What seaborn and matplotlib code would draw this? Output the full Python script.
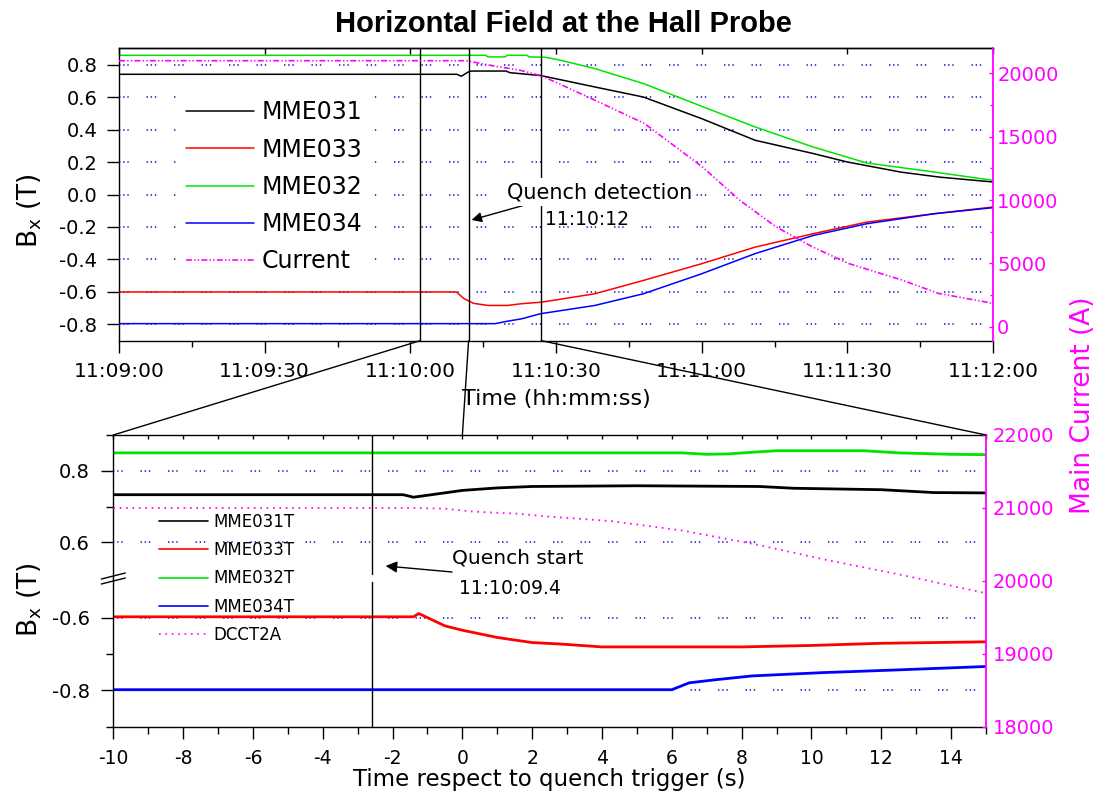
import matplotlib
matplotlib.use("Agg")
import matplotlib.pyplot as plt
from matplotlib.patches import ConnectionPatch
from matplotlib.ticker import MultipleLocator, FormatStrFormatter, NullLocator
import pandas as pd
import seaborn as sns

sns.set_theme(style="white")
plt.rcParams["font.family"] = ["DejaVu Sans"]
plt.rcParams["axes.unicode_minus"] = False
plt.rcParams["lines.scale_dashes"] = False
plt.rcParams["axes.edgecolor"] = "black"
plt.rcParams["axes.linewidth"] = 1.0
for key in ("text.color", "axes.labelcolor", "xtick.color", "ytick.color"):
    plt.rcParams[key] = "black"

# ---------------- overview: seconds after 11:09:00 ----------------
time_ticks = [0, 30, 60, 90, 120, 150, 180]
time_labels = ["11:09:00", "11:09:30", "11:10:00", "11:10:30",
               "11:11:00", "11:11:30", "11:12:00"]
bx_ticks = [-0.8, -0.6, -0.4, -0.2, 0.0, 0.2, 0.4, 0.6, 0.8]
current_ticks = [0, 5000, 10000, 15000, 20000]

t_mme031 = [0, 69.6, 70.5, 71.8, 72.5, 79.7, 80.5, 86.9, 98, 108, 120, 131, 143, 150, 161, 169, 180]
b_mme031 = [0.74, 0.74, 0.728, 0.752, 0.76, 0.76, 0.75, 0.732, 0.662, 0.60, 0.467, 0.334, 0.252,
            0.20, 0.138, 0.107, 0.077]

t_mme032 = [0, 75.5, 76, 79.5, 80, 84, 84.5, 87.8, 91, 98, 108, 120, 131, 143, 154, 168, 180]
b_mme032 = [0.857, 0.857, 0.847, 0.847, 0.857, 0.857, 0.847, 0.845, 0.826, 0.775, 0.683, 0.543,
            0.416, 0.292, 0.194, 0.138, 0.087]

t_mme033 = [0, 69.5, 71, 73, 76, 80, 83, 87, 98, 108, 120, 131, 143, 154, 168, 180]
b_mme033 = [-0.60, -0.60, -0.64, -0.67, -0.683, -0.683, -0.672, -0.663, -0.611, -0.529, -0.426,
            -0.324, -0.241, -0.17, -0.118, -0.077]

t_mme034 = [0, 77.5, 80, 83, 86, 87, 98, 108, 120, 131, 143, 154, 168, 180]
b_mme034 = [-0.795, -0.795, -0.78, -0.765, -0.74, -0.733, -0.683, -0.611, -0.488, -0.364, -0.252,
            -0.18, -0.118, -0.081]

t_current = [0, 71.5, 77, 82.7, 86.9, 90.3, 97.8, 108.2, 120.1, 127.8, 135.3, 142.8, 150.2,
             161.3, 168.7, 180]
i_current = [21000, 21000, 20600, 20240, 19820, 19240, 17920, 16050, 12630, 10000, 7890, 6310,
             5000, 3680, 2640, 1850]

# quench trigger (11:10:12) and the zoomed window around it
trigger_s = 72
rel_min, rel_max = -10, 15
quench_start_rel = -2.6          # 11:10:09.4

# ---------------- zoom: seconds relative to the quench trigger ----------------
rel_ticks = [-10, -8, -6, -4, -2, 0, 2, 4, 6, 8, 10, 12, 14]
dcct_ticks = [18000, 19000, 20000, 21000, 22000]

tb_mme031 = [-10, -1.7, -1.4, 0, 1, 2, 5, 8.5, 9.5, 12, 13.5, 15]
bb_mme031 = [0.733, 0.733, 0.726, 0.745, 0.752, 0.756, 0.758, 0.756, 0.751, 0.747, 0.739, 0.738]

tb_mme032 = [-10, 6.3, 7, 7.6, 8.5, 9, 11.5, 12.5, 14, 15]
bb_mme032 = [0.850, 0.850, 0.846, 0.847, 0.853, 0.856, 0.856, 0.850, 0.846, 0.845]

tb_mme033 = [-10, -1.4, -1.25, -0.5, 0, 1, 2, 2.8, 4, 8, 10, 12, 15]
bb_mme033 = [-0.597, -0.597, -0.588, -0.622, -0.634, -0.654, -0.668, -0.672, -0.680, -0.680,
             -0.676, -0.670, -0.666]

tb_mme034 = [-10, 6.0, 6.5, 7.3, 8.3, 10.3, 12.3, 15]
bb_mme034 = [-0.798, -0.798, -0.779, -0.770, -0.760, -0.751, -0.744, -0.734]

tb_dcct = [-10, -1.5, -0.5, 0.3, 1.6, 2.5, 4.25, 6.3, 8.4, 10.5, 12.5, 15]
ib_dcct = [21000, 21000, 20990, 20950, 20920, 20880, 20820, 20690, 20500, 20280, 20090, 19830]

BLACK, RED, GREEN, BLUE = "#000000", "#ff0000", "#00e400", "#0000ff"
MAGENTA = "#ff00ff"
GRID = "#3434d0"
GRID_LS = (0, (1.0, 2.0, 1.0, 2.0, 1.0, 12.8))
DASHDOTDOT = (0, (4.3, 1.6, 1.0, 1.6, 1.0, 1.6))
SPARSE_DOT = (0, (1.2, 3.4))

W, H = 1105, 796
fig = plt.figure(figsize=(W / 100, H / 100), dpi=100)


def rect(left, top, right, bottom):
    return [left / W, 1 - bottom / H, (right - left) / W, (bottom - top) / H]


def fx(px):
    return px / W


def fy(py):
    return 1 - py / H


ax_top = fig.add_axes(rect(119, 48.3, 993, 340.7))
ax_topI = ax_top.twinx()
ax_hi = fig.add_axes(rect(113.3, 435, 986, 578))
ax_lo = fig.add_axes(rect(113.3, 578, 986, 726.7), sharex=ax_hi)
ax_cur = fig.add_axes(rect(113.3, 435, 986, 726.7), sharex=ax_hi)


def trace(ax, t, v, color, lw, ls="-"):
    frame = pd.DataFrame({"t": t, "v": v})
    sns.lineplot(data=frame, x="t", y="v", ax=ax, color=color, lw=lw,
                 estimator=None, sort=False)
    line = ax.get_lines()[-1]
    line.set_linestyle(ls)
    return line


# ---------------- overview panel ----------------
l031 = trace(ax_top, t_mme031, b_mme031, BLACK, 1.1)
l033 = trace(ax_top, t_mme033, b_mme033, RED, 1.1)
l032 = trace(ax_top, t_mme032, b_mme032, GREEN, 1.1)
l034 = trace(ax_top, t_mme034, b_mme034, BLUE, 1.1)
lcur = trace(ax_topI, t_current, i_current, MAGENTA, 1.2, DASHDOTDOT)

for t in (trigger_s + rel_min, trigger_s, trigger_s + rel_max):
    ax_top.axvline(t, color="black", lw=1.0)

ax_top.set_xlim(0, 180)
ax_top.set_ylim(-0.9, 0.9)
ax_top.set_xticks(time_ticks, labels=time_labels)
ax_top.xaxis.set_minor_locator(MultipleLocator(15))
ax_top.tick_params(axis="x", which="major", direction="out", length=8.6, width=1,
                   bottom=True, top=False, labelsize=14.5, pad=6.5)
ax_top.tick_params(axis="x", which="minor", direction="out", length=4.5, width=1,
                   bottom=True, top=False)
ax_top.set_yticks(bx_ticks)
ax_top.yaxis.set_major_formatter(FormatStrFormatter("%.1f"))
ax_top.tick_params(axis="y", which="major", direction="out", length=9, width=1,
                   left=True, right=False, labelsize=14, pad=6.5)
ax_top.yaxis.grid(True, which="major", color=GRID, lw=1.3, ls=GRID_LS)
ax_top.xaxis.grid(False)
ax_top.spines["right"].set_visible(False)

sec = ax_top.secondary_xaxis("top")
sec.set_xticks(time_ticks, labels=[])
sec.xaxis.set_minor_locator(NullLocator())
sec.tick_params(axis="x", direction="in", length=4.3, width=1, top=True)

ax_topI.set_ylim(-1100, 21980)
ax_topI.set_yticks(current_ticks)
ax_topI.yaxis.set_minor_locator(MultipleLocator(2500))
ax_topI.tick_params(axis="y", which="major", direction="in", length=3, width=1,
                    colors=MAGENTA, labelsize=14, pad=3)
ax_topI.tick_params(axis="y", which="minor", direction="in", length=2.5, width=1,
                    colors=MAGENTA)
for side in ("left", "top", "bottom"):
    ax_topI.spines[side].set_visible(False)
ax_topI.spines["right"].set_color(MAGENTA)
ax_topI.spines["right"].set_linewidth(1.3)
ax_topI.grid(False)
ax_topI.set_ylabel("")
ax_topI.set_xlabel("")

ax_top.set_xlabel("Time (hh:mm:ss)", fontsize=16, labelpad=6)
ax_top.set_ylabel(r"B$_\mathregular{x}$ (T)", fontsize=19)
ax_top.yaxis.set_label_coords((44 - 119) / 874, (340.7 - 211) / 292.4)

leg = ax_topI.legend([l031, l033, l032, l034, lcur],
                     ["MME031", "MME033", "MME032", "MME034", "Current"],
                     loc="upper left", bbox_to_anchor=(fx(177), fy(91)),
                     bbox_transform=fig.transFigure, fontsize=17, frameon=True,
                     fancybox=False, framealpha=1, facecolor="white", edgecolor="none",
                     borderpad=0.4, borderaxespad=0, handlelength=2.85,
                     handletextpad=0.35, labelspacing=0.56)

# ---------------- zoomed panel (broken B axis) ----------------
lb031 = trace(ax_hi, tb_mme031, bb_mme031, BLACK, 2.0)
lb032 = trace(ax_hi, tb_mme032, bb_mme032, GREEN, 2.0)
lb033 = trace(ax_lo, tb_mme033, bb_mme033, RED, 2.0)
lb034 = trace(ax_lo, tb_mme034, bb_mme034, BLUE, 2.0)
ldcct = trace(ax_cur, tb_dcct, ib_dcct, MAGENTA, 1.3, SPARSE_DOT)

ax_hi.axvline(quench_start_rel, ymin=0.025, color="black", lw=1.0)
ax_lo.axvline(quench_start_rel, ymax=0.975, color="black", lw=1.0)

ax_lo.set_xlim(rel_min, rel_max)
ax_hi.set_ylim(0.5, 0.9)
ax_lo.set_ylim(-0.9, -0.49)
ax_lo.set_xticks(rel_ticks)
ax_lo.xaxis.set_major_formatter(FormatStrFormatter("%d"))
ax_lo.xaxis.set_minor_locator(MultipleLocator(1))
ax_lo.tick_params(axis="x", which="major", direction="out", length=8.6, width=1,
                  bottom=True, top=False, labelsize=13.5, pad=7.5)
ax_lo.tick_params(axis="x", which="minor", direction="out", length=4.7, width=1,
                  bottom=True, top=False)
ax_hi.tick_params(axis="x", which="both", direction="in", length=3, width=1,
                  bottom=False, top=True, labelbottom=False, labeltop=False)

ax_hi.set_yticks([0.6, 0.8])
ax_hi.set_yticks([0.7, 0.9], minor=True)
ax_lo.set_yticks([-0.8, -0.6])
ax_lo.set_yticks([-0.9, -0.7], minor=True)
for ax in (ax_hi, ax_lo):
    ax.yaxis.set_major_formatter(FormatStrFormatter("%.1f"))
    ax.tick_params(axis="y", which="major", direction="out", length=8.8, width=1,
                   left=True, right=False, labelsize=14, pad=8)
    ax.tick_params(axis="y", which="minor", direction="out", length=4.8, width=1,
                   left=True, right=False)
    ax.yaxis.grid(True, which="major", color=GRID, lw=1.3, ls=GRID_LS)
    ax.xaxis.grid(False)
    ax.spines["right"].set_visible(False)
    ax.set_ylabel("")
    ax.set_xlabel("")
ax_hi.spines["bottom"].set_visible(False)
ax_lo.spines["top"].set_visible(False)

# break marks on the left axis
dx = 12 / 872.7
dy = 1 / 148.7
for y0, y1 in ((-1, 5), (-6, 0)):
    ax_lo.plot([-dx, dx], [1 + y0 * dy, 1 + y1 * dy], transform=ax_lo.transAxes,
               color="black", lw=1.0, clip_on=False)

ax_cur.set_ylim(18000, 22000)
ax_cur.set_yticks(dcct_ticks)
ax_cur.yaxis.tick_right()
ax_cur.tick_params(axis="y", direction="in", length=3, width=1, colors=MAGENTA,
                   labelsize=14, pad=4.8, left=False, right=True)
ax_cur.tick_params(axis="x", which="both", bottom=False, top=False,
                   labelbottom=False, labeltop=False)
ax_cur.patch.set_visible(False)
for side in ("left", "top", "bottom"):
    ax_cur.spines[side].set_visible(False)
ax_cur.spines["right"].set_color(MAGENTA)
ax_cur.spines["right"].set_linewidth(1.3)
ax_cur.grid(False)
ax_cur.set_xlabel("")
ax_cur.set_ylabel("")

ax_lo.set_xlabel("Time respect to quench trigger (s)", fontsize=16.5, labelpad=0)
ax_lo.set_ylabel(r"B$_\mathregular{x}$ (T)", fontsize=19)
ax_lo.yaxis.set_label_coords((44 - 113.3) / 872.7, (726.7 - 600) / 148.7)

legb = ax_cur.legend([lb031, lb033, lb032, lb034, ldcct],
                     ["MME031T", "MME033T", "MME032T", "MME034T", "DCCT2A"],
                     loc="upper left", bbox_to_anchor=(fx(152), fy(506)),
                     bbox_transform=fig.transFigure, fontsize=12, frameon=False,
                     borderpad=0.4, borderaxespad=0, handlelength=2.93,
                     handletextpad=0.36, labelspacing=0.62)
for h in legb.legend_handles:
    h.set_linewidth(1.2)

# lines joining the zoom window to the lower panel
for ta, tb in ((trigger_s + rel_min, rel_min), (trigger_s, 0), (trigger_s + rel_max, rel_max)):
    con = ConnectionPatch(xyA=(ta, -0.9), coordsA=ax_top.transData,
                          xyB=(tb, 0.9), coordsB=ax_hi.transData,
                          color="black", lw=1.0)
    fig.add_artist(con)

# annotations
fig.text(fx(507), fy(198.3), "Quench detection", fontsize=15, ha="left", va="baseline",
         bbox=dict(fc="white", ec="none", pad=3))
fig.text(fx(545), fy(225), "11:10:12", fontsize=13.5, ha="left", va="baseline")
ax_top.annotate("", xy=(trigger_s + 0.6, -0.157), xycoords="data",
                xytext=(fx(532), fy(203)), textcoords="figure fraction",
                arrowprops=dict(arrowstyle="-|>", color="black", lw=1.0,
                                mutation_scale=15, shrinkA=0, shrinkB=0))

fig.text(fx(452), fy(564), "Quench start", fontsize=14.5, ha="left", va="baseline")
fig.text(fx(459), fy(594), "11:10:09.4", fontsize=13.5, ha="left", va="baseline")
ax_cur.annotate("", xy=(quench_start_rel + 0.4, 20204), xycoords="data",
                xytext=(fx(452), fy(572)), textcoords="figure fraction",
                arrowprops=dict(arrowstyle="-|>", color="black", lw=1.0,
                                mutation_scale=17, shrinkA=0, shrinkB=0))

fig.text(fx(1083), fy(405), "Main Current (A)", rotation=90, ha="center", va="center",
         fontsize=19, color=MAGENTA)
fig.text(0.51, fy(31.7), "Horizontal Field at the Hall Probe", ha="center", va="baseline",
         fontsize=21, fontweight="bold", family="Liberation Sans")

fig.savefig("out.png", dpi=100)
